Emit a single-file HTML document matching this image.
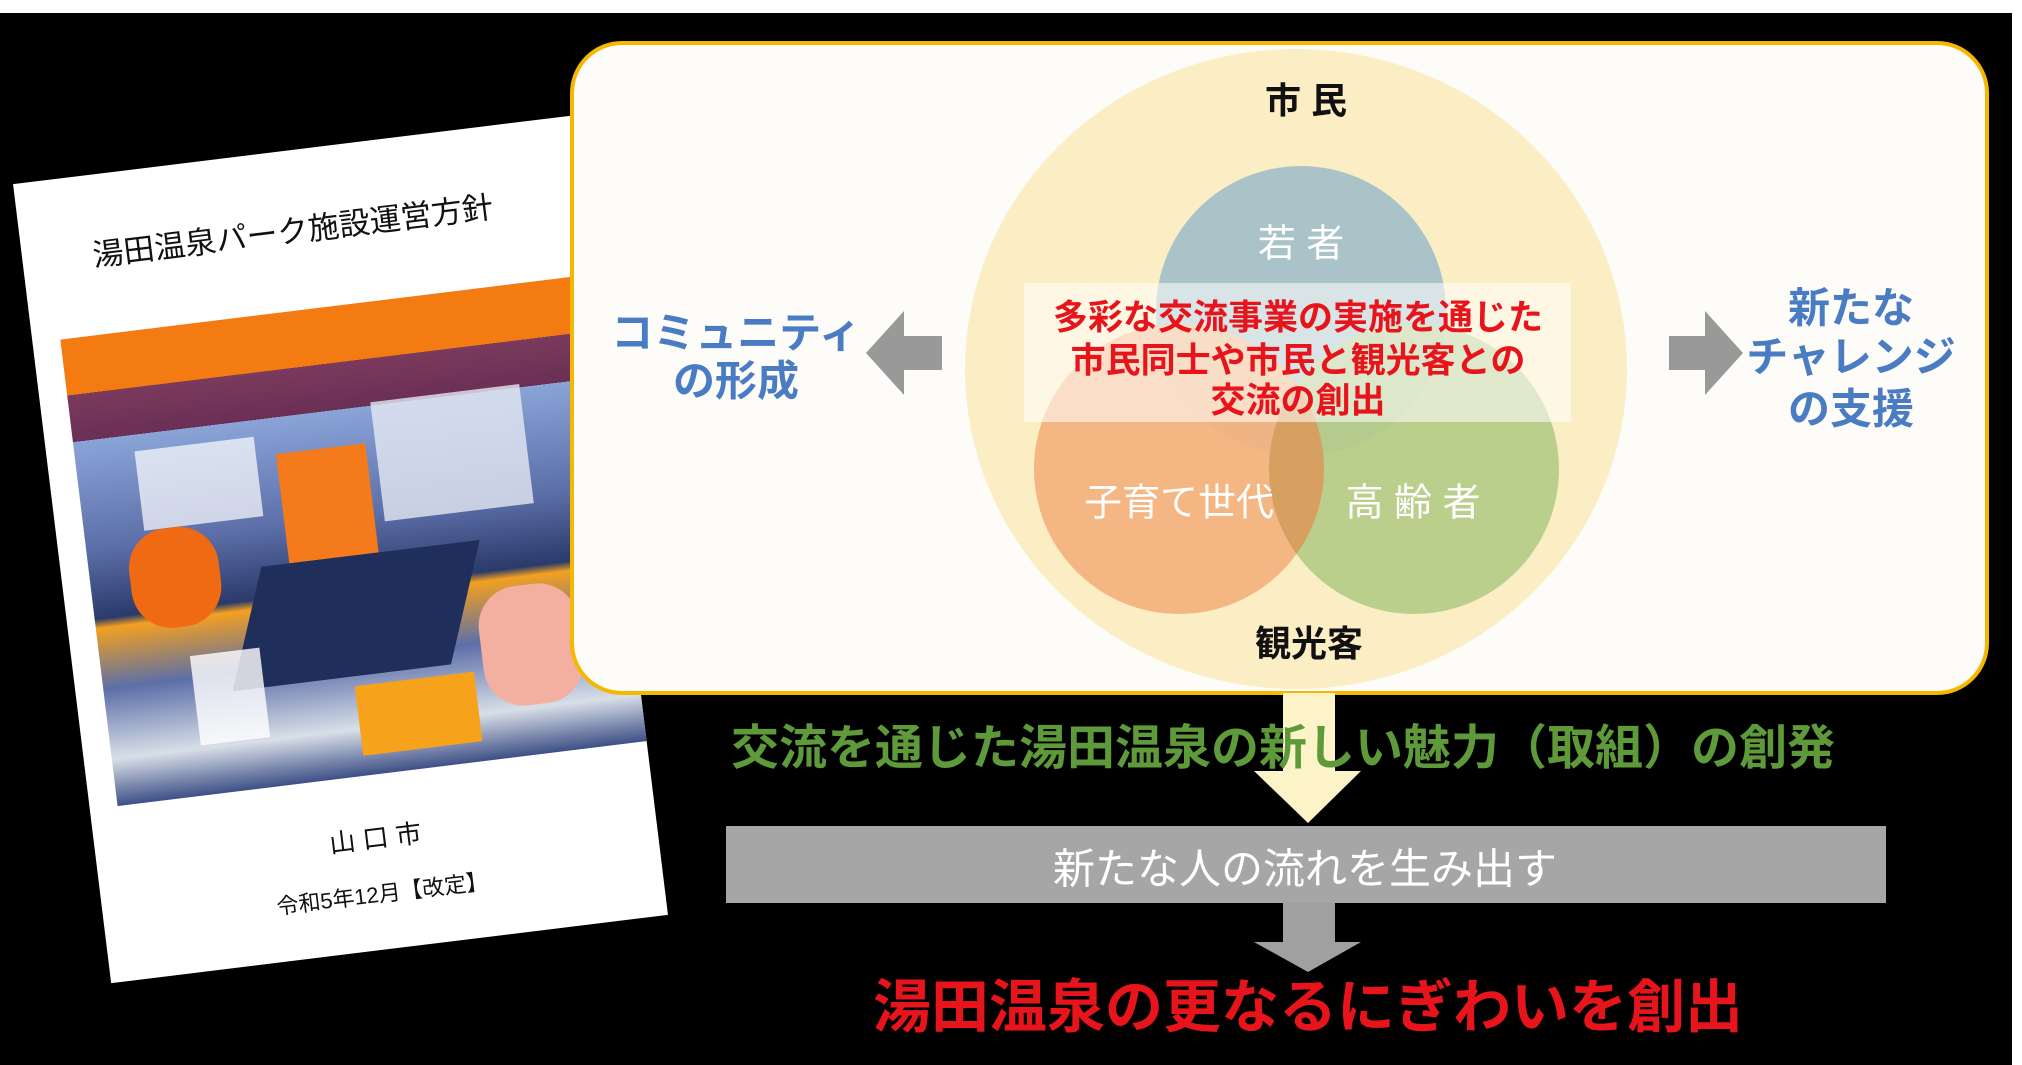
<!DOCTYPE html>
<html><head><meta charset="utf-8"><style>
body{margin:0;width:2022px;height:1065px;background:#fff;position:relative;overflow:hidden;font-family:"Liberation Sans","Noto Sans CJK JP",sans-serif}
.a{position:absolute}
.t{position:absolute;white-space:nowrap;transform:translate(-50%,-50%);text-align:center}
</style></head><body>
<div class="a" style="left:0;top:13px;width:2012px;height:1052px;background:#000"></div>

<!-- booklet -->
<div class="a" style="left:60px;top:147px;width:561px;height:805px;background:#fff;transform:rotate(-7deg);transform-origin:center;overflow:hidden">
  <div class="t" style="left:272px;top:78px;font-size:31px;color:#111">湯田温泉パーク施設運営方針</div>
  <div class="a" style="left:28px;top:160px;width:533px;height:470px;background:linear-gradient(180deg,#f47a12 0,#f47a12 12%,#7a3a5c 12%,#6b2f55 22%,#8aa4d8 22%,#5c6fa8 45%,#2a3a6a 60%,#f2a020 62%,#5c6fa8 75%,#d9dfe8 90%,#3d4f86 100%);overflow:hidden">
    <div class="a" style="left:60px;top:120px;width:120px;height:80px;background:#fff;opacity:.7"></div>
    <div class="a" style="left:200px;top:140px;width:90px;height:110px;background:#f57a1c"></div>
    <div class="a" style="left:300px;top:100px;width:150px;height:120px;background:#e5e9f2;opacity:.8"></div>
    <div class="a" style="left:150px;top:250px;width:220px;height:120px;background:#1f2e5a;transform:skewX(-20deg)"></div>
    <div class="a" style="left:40px;top:200px;width:90px;height:100px;background:#f06a14;border-radius:40px"></div>
    <div class="a" style="left:380px;top:300px;width:100px;height:120px;background:#f3b0a0;border-radius:40px"></div>
    <div class="a" style="left:90px;top:330px;width:70px;height:90px;background:#fff;opacity:.8"></div>
    <div class="a" style="left:250px;top:380px;width:120px;height:70px;background:#f6a21a"></div>
  </div>
  <div class="t" style="left:280px;top:692px;font-size:26px;color:#111">山 口 市</div>
  <div class="t" style="left:280px;top:748px;font-size:22px;color:#111">令和5年12月【改定】</div>
</div>

<!-- main box -->
<div class="a" style="left:570px;top:41px;width:1411px;height:646px;border:4px solid #f5b800;border-radius:52px;background:#fdfcf8;overflow:hidden">
 <svg width="1411" height="646" style="position:absolute;left:0;top:0">
  <g transform="translate(-574,-45)">
   <ellipse cx="1296" cy="369" rx="331" ry="320" fill="#fbeec4"/>
   <circle cx="1301" cy="311" r="145" fill="#a9c3c8"/>
   <circle cx="1179" cy="469" r="145" fill="#f3b27f" opacity=".95"/>
   <circle cx="1414" cy="469" r="145" fill="#b5cc88" opacity=".92"/>
   <path d="M1296.5 384 A145 145 0 0 1 1296.5 554 A145 145 0 0 1 1296.5 384Z" fill="#d8a060"/>
   <rect x="1024" y="283" width="547" height="139" fill="#fff" opacity=".55"/>
   <polygon points="866,353 904,311 904,336 942,336 942,370 904,370 904,395" fill="#999"/>
   <polygon points="1743,353 1705,311 1705,336 1669,336 1669,370 1705,370 1705,395" fill="#999"/>
  </g>
 </svg>
</div>
<div class="t" style="left:1306px;top:98px;font-size:36px;font-weight:bold;color:#111">市 民</div>
<div class="t" style="left:1301px;top:240px;font-size:38px;color:#fff">若 者</div>
<div class="t" style="left:1298px;top:315px;font-size:35px;font-weight:bold;color:#e8141c">多彩な交流事業の実施を通じた</div>
<div class="t" style="left:1298px;top:358px;font-size:35px;font-weight:bold;color:#e8141c">市民同士や市民と観光客との</div>
<div class="t" style="left:1298px;top:398px;font-size:35px;font-weight:bold;color:#e8141c">交流の創出</div>
<div class="t" style="left:1179px;top:499px;font-size:38px;color:#fff">子育て世代</div>
<div class="t" style="left:1413px;top:499px;font-size:38px;color:#fff">高 齢 者</div>
<div class="t" style="left:1309px;top:641px;font-size:36px;font-weight:bold;color:#111">観光客</div>
<div class="t" style="left:736px;top:330px;font-size:42px;font-weight:bold;color:#4a7cc4">コミュニティ</div>
<div class="t" style="left:736px;top:378px;font-size:42px;font-weight:bold;color:#4a7cc4">の形成</div>
<div class="t" style="left:1851px;top:305px;font-size:42px;font-weight:bold;color:#4a7cc4">新たな</div>
<div class="t" style="left:1851px;top:354px;font-size:42px;font-weight:bold;color:#4a7cc4">チャレンジ</div>
<div class="t" style="left:1851px;top:406px;font-size:42px;font-weight:bold;color:#4a7cc4">の支援</div>

<svg class="a" style="left:0;top:0" width="2022" height="1065">
 <polygon points="1283,693 1335,693 1335,771 1361,771 1308,823 1254,771 1283,771" fill="#fdf3c8"/>
 <rect x="726" y="826" width="1160" height="77" fill="#a6a6a6"/>
 <polygon points="1283,903 1335,903 1335,942 1361,942 1308,972 1254,942 1283,942" fill="#a0a0a0"/>
</svg>
<div class="t" style="left:1283px;top:743px;font-size:48px;font-weight:bold;color:#5f9a3a">交流を通じた湯田温泉の新しい魅力（取組）の創発</div>
<div class="t" style="left:1305px;top:866px;font-size:42px;color:#fff">新たな人の流れを生み出す</div>
<div class="t" style="left:1308px;top:1002px;font-size:58px;font-weight:bold;color:#e8141c">湯田温泉の更なるにぎわいを創出</div>
</body></html>
